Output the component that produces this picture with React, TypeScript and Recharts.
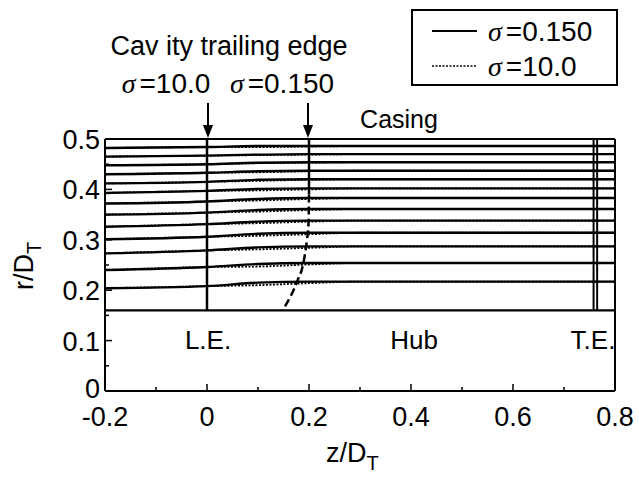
import React from "react";
import {
  LineChart,
  Line,
  XAxis,
  YAxis,
  ReferenceLine,
  Legend,
} from "recharts";

// axial stations (z/D_T) where the streamline radii were read
const zStations = [-0.2, 0, 0.1, 0.2, 0.3, 0.8];

// r/D_T of each meridional streamline, sigma = 0.150 (solid)
const solidStreamlines = [
  [0.482, 0.484, 0.486, 0.486, 0.486, 0.486],
  [0.465, 0.467, 0.469, 0.47, 0.47, 0.47],
  [0.448, 0.45, 0.453, 0.454, 0.454, 0.454],
  [0.43, 0.433, 0.436, 0.437, 0.437, 0.437],
  [0.412, 0.415, 0.419, 0.42, 0.42, 0.42],
  [0.393, 0.397, 0.401, 0.402, 0.402, 0.402],
  [0.372, 0.376, 0.381, 0.383, 0.383, 0.383],
  [0.35, 0.354, 0.359, 0.361, 0.361, 0.361],
  [0.326, 0.331, 0.336, 0.338, 0.338, 0.338],
  [0.301, 0.306, 0.312, 0.314, 0.314, 0.314],
  [0.273, 0.279, 0.285, 0.287, 0.287, 0.287],
  [0.24, 0.246, 0.252, 0.254, 0.254, 0.254],
  [0.204, 0.208, 0.215, 0.217, 0.217, 0.217],
];

// r/D_T of each meridional streamline, sigma = 10.0 (dotted)
const dottedStreamlines = [
  [0.482, 0.484, 0.484, 0.485, 0.486, 0.486],
  [0.465, 0.467, 0.468, 0.469, 0.47, 0.47],
  [0.448, 0.45, 0.452, 0.453, 0.454, 0.454],
  [0.43, 0.433, 0.434, 0.436, 0.437, 0.437],
  [0.412, 0.415, 0.417, 0.419, 0.42, 0.42],
  [0.393, 0.397, 0.398, 0.4, 0.402, 0.402],
  [0.372, 0.376, 0.378, 0.381, 0.383, 0.383],
  [0.35, 0.354, 0.356, 0.359, 0.361, 0.361],
  [0.326, 0.331, 0.333, 0.336, 0.338, 0.338],
  [0.301, 0.306, 0.308, 0.311, 0.314, 0.314],
  [0.273, 0.279, 0.281, 0.284, 0.287, 0.287],
  [0.24, 0.246, 0.247, 0.251, 0.254, 0.254],
  [0.204, 0.208, 0.21, 0.214, 0.217, 0.217],
];

const hubR = 0.16;
const casingR = 0.5;
const leadingEdgeZ = 0;
const trailingEdgeZ = [0.758, 0.765];

// cavity trailing edge, sigma = 0.150
const cavitySolidZ = [0.2, 0.2];
const cavitySolidR = [0.5, 0.39];
const cavityDashZ = [0.2, 0.199, 0.196, 0.189, 0.177, 0.148];
const cavityDashR = [0.39, 0.33, 0.3, 0.254, 0.218, 0.16];

const xTicks = [-0.2, -0.1, 0, 0.1, 0.2, 0.3, 0.4, 0.5, 0.6, 0.7, 0.8];
const xLabelled = [-0.2, 0, 0.2, 0.4, 0.6, 0.8];
const yTicks = [0, 0.05, 0.1, 0.15, 0.2, 0.25, 0.3, 0.35, 0.4, 0.45, 0.5];
const yLabelled = [0, 0.1, 0.2, 0.3, 0.4, 0.5];

const legendItems = [
  { label: "=0.150", dash: undefined as string | undefined, width: 2.2 },
  { label: "=10.0", dash: "2 1.5", width: 1.6 },
];

const FONT = "Arial, 'Liberation Sans', Helvetica, sans-serif";
const SIGMA_FONT = "'Liberation Serif', 'DejaVu Serif', serif";

const toPoints = (zs: number[], rs: number[]) =>
  zs.map((z, i) => ({ z, r: rs[i] }));

const inList = (list: number[], v: number) =>
  list.some((t) => Math.abs(t - v) < 1e-9);
const fmt = (v: number) => (Math.abs(v) < 1e-9 ? "0" : v.toFixed(1));

function YTick(props: any) {
  const { x, y, payload } = props;
  const major = inList(yLabelled, payload.value);
  const isZero = Math.abs(payload.value) < 1e-9;
  return (
    <g>
      <line x1={x} x2={x + (major ? 7 : 4)} y1={y} y2={y} stroke="#000" strokeWidth={1.5} />
      {major && (
        <text x={x - 5} y={y + (isZero ? 7 : 10)} textAnchor="end" fontSize={27} fontFamily={FONT} fill="#000">
          {fmt(payload.value)}
        </text>
      )}
    </g>
  );
}

function XTick(props: any) {
  const { x, y, payload } = props;
  const major = inList(xLabelled, payload.value);
  return (
    <g>
      <line x1={x} x2={x} y1={y} y2={y - (major ? 7 : 4)} stroke="#000" strokeWidth={1.5} />
      {major && (
        <text x={x} y={y + 35} textAnchor="middle" fontSize={27} fontFamily={FONT} fill="#000">
          {fmt(payload.value)}
        </text>
      )}
    </g>
  );
}

function LegendBox() {
  return (
    <svg width={207} height={77} style={{ display: "block" }}>
      <rect x={1} y={1} width={205} height={75} fill="#fff" stroke="#000" strokeWidth={2} />
      {legendItems.map((item, i) => {
        const cy = 22 + i * 35;
        return (
          <g key={item.label}>
            <line
              x1={21}
              x2={66}
              y1={cy}
              y2={cy}
              stroke="#000"
              strokeWidth={item.width}
              strokeDasharray={item.dash}
            />
            <text x={77} y={cy + 10} fontSize={28} fontFamily={FONT} fill="#000">
              <tspan fontFamily={SIGMA_FONT} fontStyle="italic">σ</tspan>
              <tspan dx={4}>{item.label}</tspan>
            </text>
          </g>
        );
      })}
    </svg>
  );
}

function Arrow({ x, y1, y2 }: { x: number; y1: number; y2: number }) {
  return (
    <g>
      <line x1={x} x2={x} y1={y1} y2={y2 - 10} stroke="#000" strokeWidth={2} />
      <polygon points={`${x - 5},${y2 - 13} ${x + 5},${y2 - 13} ${x},${y2}`} fill="#000" />
    </g>
  );
}

function Annotations() {
  return (
    <g fontFamily={FONT} fill="#000">
      <text x={229} y={55} textAnchor="middle" fontSize={27}>
        Cav ity trailing edge
      </text>
      <text x={166} y={93} textAnchor="middle" fontSize={28}>
        <tspan fontFamily={SIGMA_FONT} fontStyle="italic">σ</tspan>
        <tspan dx={4}>=10.0</tspan>
      </text>
      <text x={282} y={93} textAnchor="middle" fontSize={28}>
        <tspan fontFamily={SIGMA_FONT} fontStyle="italic">σ</tspan>
        <tspan dx={4}>=0.150</tspan>
      </text>
      <Arrow x={208} y1={103} y2={138} />
      <Arrow x={308} y1={103} y2={138} />
      <text x={399} y={128} textAnchor="middle" fontSize={25}>
        Casing
      </text>
      <text x={208} y={349} textAnchor="middle" fontSize={26}>
        L.E.
      </text>
      <text x={414} y={349} textAnchor="middle" fontSize={26}>
        Hub
      </text>
      <text x={593} y={349} textAnchor="middle" fontSize={26}>
        T.E.
      </text>
      <text x={326} y={462} fontSize={27}>
        z/D
        <tspan dy={8} fontSize={20}>T</tspan>
      </text>
      <g transform="translate(33,290) rotate(-90)">
        <text x={0} y={0} fontSize={27}>
          r/D
          <tspan dy={8} fontSize={20}>T</tspan>
        </text>
      </g>
    </g>
  );
}

export default function App() {
  return (
    <div style={{ position: "absolute", left: 0, top: 0, background: "#fff" }}>
      <LineChart
        width={639}
        height={478}
        margin={{ top: 139, right: 24, left: 45, bottom: 47 }}
      >
        <XAxis
          type="number"
          dataKey="z"
          domain={[-0.2, 0.8]}
          ticks={xTicks}
          interval={0}
          tickSize={0}
          tickMargin={0}
          tickLine={false}
          tick={<XTick />}
          height={40}
          axisLine={{ stroke: "#000", strokeWidth: 2 }}
          allowDuplicatedCategory={false}
        />
        <YAxis
          type="number"
          dataKey="r"
          domain={[0, 0.5]}
          ticks={yTicks}
          interval={0}
          tickSize={0}
          tickMargin={0}
          tickLine={false}
          tick={<YTick />}
          width={60}
          axisLine={{ stroke: "#000", strokeWidth: 2 }}
        />
        <ReferenceLine x={0.8} stroke="#000" strokeWidth={2} />

        {dottedStreamlines.map((rs, i) => (
          <Line
            key={`d${i}`}
            data={toPoints(zStations, rs)}
            dataKey="r"
            type="monotone"
            stroke="#000"
            strokeWidth={1.8}
            strokeDasharray="2 1.5"
            dot={false}
            isAnimationActive={false}
          />
        ))}
        {solidStreamlines.map((rs, i) => (
          <Line
            key={`s${i}`}
            data={toPoints(zStations, rs)}
            dataKey="r"
            type="monotone"
            stroke="#000"
            strokeWidth={2.4}
            dot={false}
            isAnimationActive={false}
          />
        ))}

        <Line
          data={toPoints([-0.2, 0.8], [casingR, casingR])}
          dataKey="r"
          stroke="#000"
          strokeWidth={2.2}
          dot={false}
          isAnimationActive={false}
        />
        <Line
          data={toPoints([-0.2, 0.8], [hubR, hubR])}
          dataKey="r"
          stroke="#000"
          strokeWidth={2.4}
          dot={false}
          isAnimationActive={false}
        />
        <Line
          data={toPoints([leadingEdgeZ, leadingEdgeZ], [hubR, casingR])}
          dataKey="r"
          stroke="#000"
          strokeWidth={2.5}
          dot={false}
          isAnimationActive={false}
        />
        {trailingEdgeZ.map((z) => (
          <Line
            key={`te${z}`}
            data={toPoints([z, z], [hubR, casingR])}
            dataKey="r"
            stroke="#000"
            strokeWidth={2}
            dot={false}
            isAnimationActive={false}
          />
        ))}
        <Line
          data={toPoints(cavitySolidZ, cavitySolidR)}
          dataKey="r"
          stroke="#000"
          strokeWidth={2.5}
          dot={false}
          isAnimationActive={false}
        />
        <Line
          data={toPoints(cavityDashZ, cavityDashR)}
          dataKey="r"
          type="monotone"
          stroke="#000"
          strokeWidth={2.5}
          strokeDasharray="8 4"
          dot={false}
          isAnimationActive={false}
        />

        <Legend
          layout="vertical"
          align="center"
          verticalAlign="middle"
          content={<LegendBox />}
          wrapperStyle={{ left: 411, top: 9, width: 207, height: 77 }}
        />
        <Annotations />
      </LineChart>
    </div>
  );
}
